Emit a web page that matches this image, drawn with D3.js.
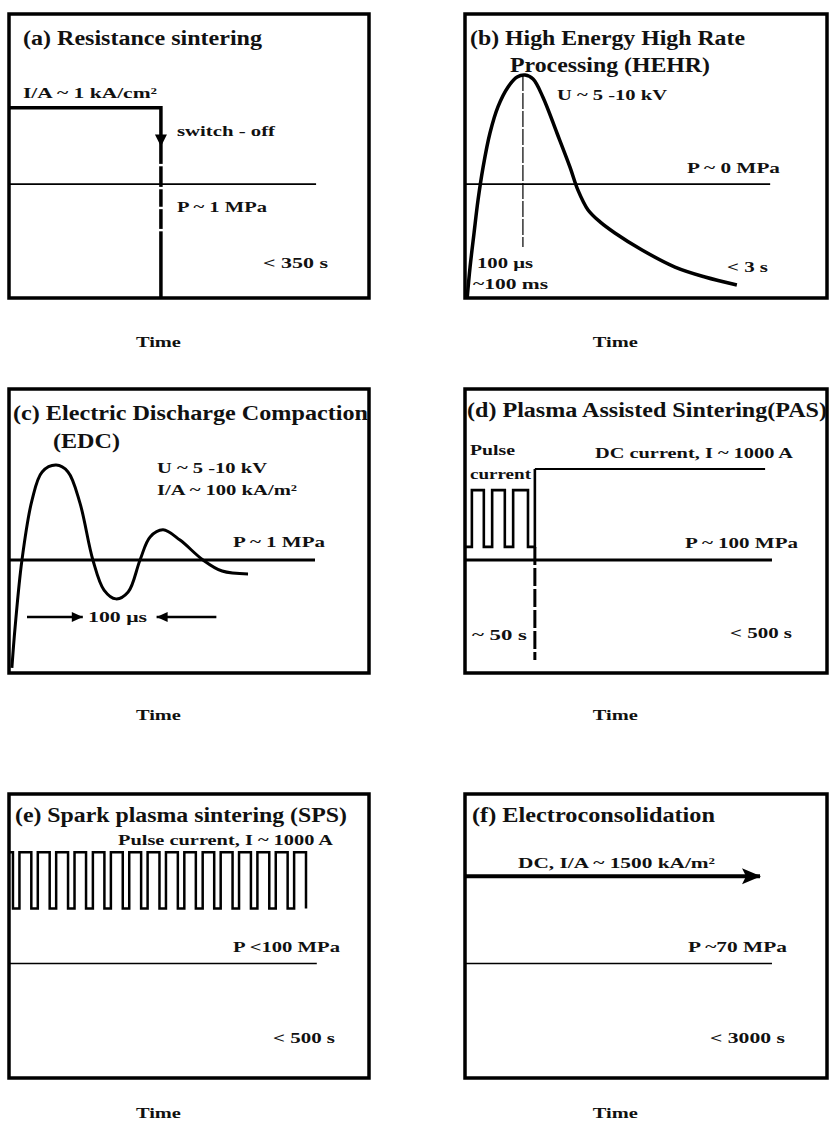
<!DOCTYPE html>
<html><head><meta charset="utf-8">
<script src="https://cdn.jsdelivr.net/npm/d3@7"></script>
<style>
body{margin:0;background:#fff}
svg text{font-family:"Liberation Serif","Times New Roman",serif;fill:#111;font-weight:bold}
</style>
</head><body>
<svg id="chart" width="829" height="1129"></svg>
<script>
// ---------------- data (relative units: time 0-100 across the box, level 0-100 up the box)
// (a) resistance sintering
const aCurrent = [[0,67],[42.2,67],[42.2,0]];
const aGaps = [46.8,38.7,31.7,23.9];
const aArrow = [42.2,55.5];
const aPressure = [[0,40.1],[85.3,40.1]];
// (b) HEHR pulse
const bPulse = [[0.6,0],[1.4,10.9],[2.5,22.9],[3.6,34.5],[5.0,46.1],[6.9,58.1],[9.1,67.3],[11.9,74.3],
  [14.4,77.8],[16.6,78.5],[18.8,77.1],[21.5,70.8],[25.4,58.1],[29.0,46.1],[31.2,38.0],[34.0,31.0],
  [37.3,26.8],[41.4,22.9],[48.9,16.9],[58.0,10.9],[66.3,7.4],[75.1,4.6]];
const bPeakMarker = [[16.0,78.5],[16.0,18.0]];
const bPressure = [[0,40.1],[84.3,40.1]];
// (c) EDC damped oscillation
const cPulse = [[0.8,1.8],[1.7,16.2],[3.6,39.8],[6.4,60.9],[9.2,70.8],[13.1,73.2],[16.4,70.8],[19.7,59.9],
  [23.3,39.8],[26.4,29.2],[29.7,26.1],[33.1,28.5],[36.4,39.8],[39.2,47.9],[42.8,50.4],[47.5,46.8],
  [53.9,39.8],[59.2,35.9],[66.4,34.9]];
const cPressure = [[0,39.8],[85.0,39.8]];
const cArrowLeft = [[5.0,19.7],[20.5,19.7]];
const cArrowRight = [[57.6,19.7],[41.0,19.7]];
// (d) PAS
const dPulseEdges = [1.9,5.2,7.5,11.0,13.3,17.4];
const dLow = 44.4, dHigh = 64.4, dSwitch = 19.3, dDC = 71.8, dEnd = 82.9, dDashEnd = 4.6;
const dPressure = [[0,39.8],[84.8,39.8]];
// (e) SPS
const ePulseEdges = [1.1,2.9,6.2,8.0,11.3,13.1,16.4,18.2,21.4,23.3,26.5,28.3,31.6,33.4,36.7,38.5,
  41.8,43.6,46.9,48.7,51.9,53.8,57.0,58.8,62.1,63.9,67.2,69.0,72.3,74.1,77.4,79.2,82.5];
const eLow = 59.7, eHigh = 79.5;
const ePressure = [[0,40.3],[85.5,40.3]];
// (f) Electroconsolidation
const fCurrent = [[0,71.0],[81.5,71.0]];
const fPressure = [[0,40.3],[84.8,40.3]];

// ---------------- labels
const titles = {
  a:[["(a) Resistance sintering",23,45,20,239]],
  b:[["(b) High Energy High Rate",470,45,20,275],["Processing (HEHR)",510,72,20,200]],
  c:[["(c) Electric Discharge Compaction",13,420,20,355],["(EDC)",53,448,20,67]],
  d:[["(d) Plasma Assisted Sintering(PAS)",467,417,20,360]],
  e:[["(e) Spark plasma sintering (SPS)",15,822,20,332]],
  f:[["(f) Electroconsolidation",472,822,20,243]]
};
const notes = [
  ["I/A ~ 1 kA/cm²",23,98,15,134],["switch - off",177,136,15,98],["P ~ 1 MPa",177,212,15,90],["< 350 s",263,268,15,65],
  ["U ~ 5 -10 kV",557,100,15,110],["P ~ 0 MPa",687,173,15,93],["100 μs",477,268,15,56],["~100 ms",473,289,15,75],["< 3 s",727,272,15,41],
  ["U ~ 5 -10 kV",157,473,15,110],["I/A ~ 100 kA/m²",157,495,15,140],["P ~ 1 MPa",233,547,15,92],["100 μs",88,622,15,59],
  ["Pulse",470,455,14,45],["current",470,479,14,61],["DC current, I ~ 1000 A",595,458,15,198],["P ~ 100 MPa",685,548,15,113],["~ 50 s",472,640,15,55],["< 500 s",730,638,15,62],
  ["Pulse current, I ~ 1000 A",118,845,15,215],["P <100 MPa",233,952,15,107],["< 500 s",273,1043,15,62],
  ["DC, I/A ~ 1500 kA/m²",518,868,15,197],["P ~70 MPa",688,952,15,99],["< 3000 s",710,1043,15,75]
];
const timeLabel = "Time";

// ---------------- layout
const cols = [9,465], widths = [360,362], rows = [14,389,794], H = 284;
const timeGap = [49,47,40];
const panelIds = ["a","b","c","d","e","f"];
const svg = d3.select("#chart");

function panel(i){
  const c = i%2, r = Math.floor(i/2);
  const x0 = cols[c], y0 = rows[r], w = widths[c];
  const x = d3.scaleLinear().domain([0,100]).range([x0,x0+w]);
  const y = d3.scaleLinear().domain([0,100]).range([y0+H,y0]);
  const g = svg.append("g");
  g.append("rect").attr("x",x0).attr("y",y0).attr("width",w).attr("height",H)
    .attr("fill","none").attr("stroke","#000").attr("stroke-width",3.5);
  g.append("text").text(timeLabel).attr("x",x0+w*0.415).attr("y",y0+H+timeGap[r])
    .attr("text-anchor","middle").attr("font-size",15).attr("textLength",45).attr("lengthAdjust","spacingAndGlyphs");
  return {g,x,y};
}
function line(p,data,w,curve){
  const l = d3.line().x(d=>p.x(d[0])).y(d=>p.y(d[1]));
  if(curve) l.curve(curve);
  return p.g.append("path").attr("d",l(data)).attr("fill","none").attr("stroke","#000")
    .attr("stroke-width",w).attr("stroke-linejoin","miter");
}
function steps(edges,low,high,startLevel){
  let lev = startLevel, pts=[[0,lev]];
  edges.forEach(e=>{pts.push([e,lev]); lev = (lev===low?high:low); pts.push([e,lev]);});
  return pts;
}

const P = panelIds.map((id,i)=>panel(i));

// (a)
line(P[0],aCurrent,3.5);
aGaps.forEach(v=>P[0].g.append("rect").attr("x",P[0].x(aCurrent[1][0])-3).attr("y",P[0].y(v)-1.2)
  .attr("width",6).attr("height",2.4).attr("fill","#fff"));
line(P[0],aPressure,1.6);
{const cx=P[0].x(aArrow[0]), cy=P[0].y(aArrow[1]);
 P[0].g.append("path").attr("d",`M${cx-6},${cy-6}L${cx+6},${cy-6}L${cx},${cy+6}Z`).attr("fill","#000");}

// (b)
line(P[1],bPulse,3.5,d3.curveCatmullRom.alpha(0.5));
line(P[1],bPeakMarker,1.2).attr("stroke-dasharray","16,2");
line(P[1],bPressure,1.6);

// (c)
line(P[2],cPulse,3,d3.curveCatmullRom.alpha(0.5));
line(P[2],cPressure,3);
[cArrowLeft,cArrowRight].forEach(a=>{
  line(P[2],a,2.5);
  const tx=P[2].x(a[1][0]), ty=P[2].y(a[1][1]), dir = a[1][0]>a[0][0]?1:-1;
  P[2].g.append("path").attr("d",`M${tx},${ty}L${tx-dir*11},${ty-5}L${tx-dir*11},${ty+5}Z`).attr("fill","#000");
});

// (d)
{const pts = steps(dPulseEdges,dLow,dHigh,dLow);
 pts.push([dSwitch,dLow],[dSwitch,dDC]);
 line(P[3],pts,2.6);
 line(P[3],[[dSwitch,dDC],[dEnd,dDC]],2);
 line(P[3],[[dSwitch,dLow],[dSwitch,dDashEnd]],3).attr("stroke-dasharray","18,3");
 line(P[3],dPressure,3);}

// (e)
line(P[4],steps(ePulseEdges,eLow,eHigh,eHigh),2.5);
line(P[4],ePressure,1.6);

// (f)
line(P[5],fCurrent,4);
{const tx=P[5].x(fCurrent[1][0]), ty=P[5].y(fCurrent[1][1]);
 P[5].g.append("path").attr("d",`M${tx-18},${ty-8}L${tx+1},${ty}L${tx-18},${ty+8}L${tx-14},${ty}Z`).attr("fill","#000");}
line(P[5],fPressure,1.6);

// labels
function label(t){
  svg.append("text").text(t[0]).attr("x",t[1]).attr("y",t[2]).attr("font-size",t[3])
    .attr("textLength",t[4]).attr("lengthAdjust","spacingAndGlyphs");
}
panelIds.forEach(id=>titles[id].forEach(label));
notes.forEach(label);
</script>
</body></html>
